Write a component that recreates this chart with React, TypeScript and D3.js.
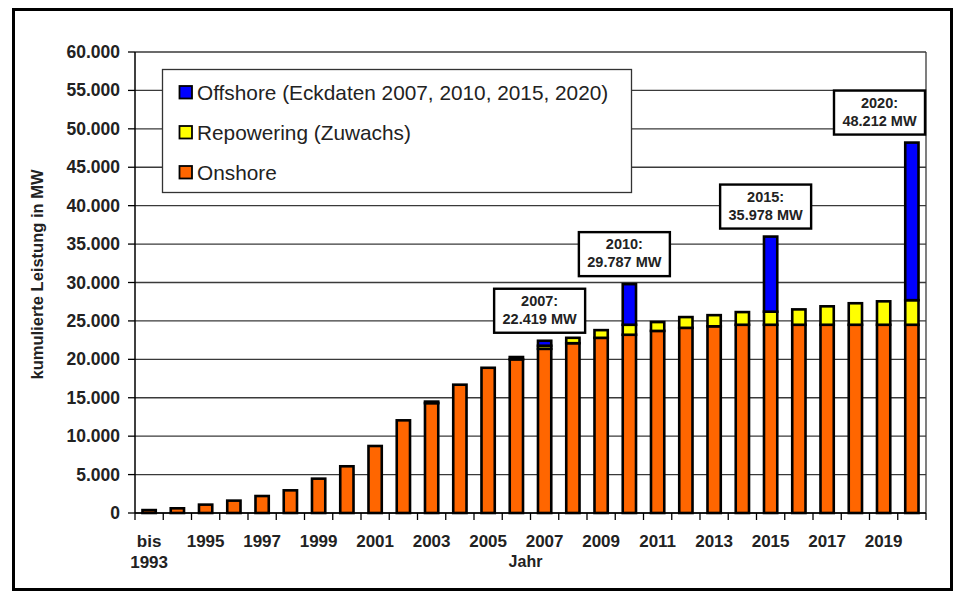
import React from "react";
import * as d3 from "d3";

const years = [
  "1993", "1994", "1995", "1996", "1997", "1998", "1999", "2000", "2001", "2002",
  "2003", "2004", "2005", "2006", "2007", "2008", "2009", "2010", "2011", "2012",
  "2013", "2014", "2015", "2016", "2017", "2018", "2019", "2020",
];
const onshore = [
  380, 611, 1090, 1610, 2210, 2950, 4470, 6080, 8720, 12060,
  14300, 16700, 18900, 20000, 21370, 22100, 22800, 23200, 23700, 24100,
  24300, 24500, 24500, 24500, 24500, 24500, 24500, 24500,
];
const repowering = [
  0, 0, 0, 0, 0, 0, 0, 0, 0, 0,
  200, 0, 0, 300, 400, 700, 1000, 1300, 1150, 1400,
  1450, 1650, 1700, 2000, 2400, 2800, 3050, 3200,
];
const offshore = [
  0, 0, 0, 0, 0, 0, 0, 0, 0, 0,
  0, 0, 0, 0, 649, 0, 0, 5287, 0, 0,
  0, 0, 9778, 0, 0, 0, 0, 20512,
];
const yTicks = [0, 5000, 10000, 15000, 20000, 25000, 30000, 35000, 40000, 45000, 50000, 55000, 60000];
const xLabelYears = ["1993", "1995", "1997", "1999", "2001", "2003", "2005", "2007", "2009", "2011", "2013", "2015", "2017", "2019"];
const annotatedYears = ["2007", "2010", "2015", "2020"];
const seriesNames = ["Offshore (Eckdaten 2007, 2010, 2015, 2020)", "Repowering (Zuwachs)", "Onshore"];
const seriesKeys = ["offshore", "repowering", "onshore"];
const colors: Record<string, string> = { onshore: "#FF6600", repowering: "#FFFF00", offshore: "#0000FF" };

const W = 956, H = 592;
const L = 135, R = 926, T = 52, B = 513;
const FONT = "'Liberation Sans', Arial, Helvetica, sans-serif";

const de = d3.formatLocale({ decimal: ",", thousands: ".", grouping: [3], currency: ["", " €"] });
const fmt = de.format(",d");

export default function App() {
  const x = d3.scaleBand<string>().domain(years).range([L, R]).paddingInner(0).paddingOuter(0);
  const y = d3.scaleLinear().domain([0, 60000]).range([B, T]);
  const bw = x.bandwidth() * 0.47;

  const rows = years.map((yr, i) => ({ year: yr, onshore: onshore[i], repowering: repowering[i], offshore: offshore[i] }));
  const stack = d3.stack<any>().keys(["onshore", "repowering", "offshore"]);
  const layers = stack(rows);

  const cx = (yr: string) => (x(yr) as number) + x.bandwidth() / 2;

  return (
    <div style={{ position: "absolute", left: 0, top: 0 }}>
      <svg width={W} height={H} style={{ display: "block", background: "#fff" }} fontFamily={FONT}>
        <rect x={0} y={0} width={W} height={H} fill="#fff" />
        {/* outer frame */}
        <rect x={13.5} y={9.5} width={938} height={580} fill="none" stroke="#000" strokeWidth={3} />

        {/* gridlines */}
        {yTicks.map((t) => (
          <line key={"g" + t} x1={L} x2={R} y1={y(t)} y2={y(t)} stroke="#3a3a3a" strokeWidth={1.3} />
        ))}
        {yTicks.map((t) => (
          <line key={"tk" + t} x1={L - 7} x2={L} y1={y(t)} y2={y(t)} stroke="#000" strokeWidth={1.3} />
        ))}
        {/* right plot border */}
        <line x1={R} x2={R} y1={T} y2={B} stroke="#3a3a3a" strokeWidth={1.3} />

        {/* bars */}
        {layers.map((layer) =>
          layer.map((d, i) => {
            const h = y(d[0]) - y(d[1]);
            if (h <= 0) return null;
            return (
              <rect
                key={layer.key + i}
                x={cx(years[i]) - bw / 2}
                y={y(d[1])}
                width={bw}
                height={h}
                fill={colors[layer.key]}
                stroke="#000"
                strokeWidth={2.6}
              />
            );
          })
        )}

        {/* axes */}
        <line x1={L} x2={L} y1={T} y2={B} stroke="#000" strokeWidth={1.5} />
        <line x1={L} x2={R} y1={B} y2={B} stroke="#000" strokeWidth={1.5} />
        {[...years, "end"].map((yr, i) => {
          const xx = i < years.length ? (x(yr) as number) : R;
          return <line key={"xt" + i} x1={xx} x2={xx} y1={B} y2={B + 7} stroke="#000" strokeWidth={1.3} />;
        })}

        {/* y tick labels */}
        {yTicks.map((t) => (
          <text key={"yl" + t} x={L - 15} y={y(t) + 6} textAnchor="end" fontSize={17.5} fontWeight="bold" fill="#222">
            {t === 0 ? "0" : fmt(t)}
          </text>
        ))}

        {/* x labels */}
        {xLabelYears.map((yr, i) =>
          i === 0 ? (
            <g key={"xl" + yr}>
              <text x={cx(yr)} y={547} textAnchor="middle" fontSize={17} fontWeight="bold" fill="#222">bis</text>
              <text x={cx(yr)} y={568} textAnchor="middle" fontSize={17} fontWeight="bold" fill="#222">{yr}</text>
            </g>
          ) : (
            <text key={"xl" + yr} x={cx(yr)} y={547} textAnchor="middle" fontSize={17} fontWeight="bold" fill="#222">{yr}</text>
          )
        )}
        <text x={(L + R) / 2 - 5} y={567} textAnchor="middle" fontSize={16} fontWeight="bold" fill="#222">Jahr</text>

        {/* y title */}
        <text transform={`translate(43, ${(T + B) / 2 - 8}) rotate(-90)`} textAnchor="middle" fontSize={16.5} fontWeight="bold" fill="#222">
          kumulierte Leistung in MW
        </text>

        {/* legend */}
        <rect x={162.5} y={69.5} width={469} height={123} fill="#fff" stroke="#333" strokeWidth={1.3} />
        {seriesNames.map((name, i) => {
          const cy = 92.5 + i * 40;
          return (
            <g key={"lg" + i}>
              <rect x={179.5} y={cy - 6.5} width={12.5} height={12.5} fill={colors[seriesKeys[i]]} stroke="#000" strokeWidth={1.8} />
              <text x={197} y={cy + 7.5} fontSize={20.8} fill="#222">{name}</text>
            </g>
          );
        })}

        {/* annotations */}
        {annotatedYears.map((yr) => {
          const i = years.indexOf(yr);
          const total = onshore[i] + repowering[i] + offshore[i];
          const bwBox = 91, bh = 44;
          let left = cx(yr) - 5 - bwBox / 2;
          if (left + bwBox > R - 1) left = R - 1 - bwBox;
          const bottom = y(total) - 8;
          const top = bottom - bh;
          const mid = left + bwBox / 2;
          return (
            <g key={"an" + yr}>
              <rect x={left} y={top} width={bwBox} height={bh} fill="#fff" stroke="#000" strokeWidth={2.4} />
              <text x={mid} y={top + 17} textAnchor="middle" fontSize={14.5} fontWeight="bold" fill="#222">{yr}:</text>
              <text x={mid} y={top + 35} textAnchor="middle" fontSize={14.5} fontWeight="bold" fill="#222">{fmt(total)} MW</text>
            </g>
          );
        })}
      </svg>
    </div>
  );
}
